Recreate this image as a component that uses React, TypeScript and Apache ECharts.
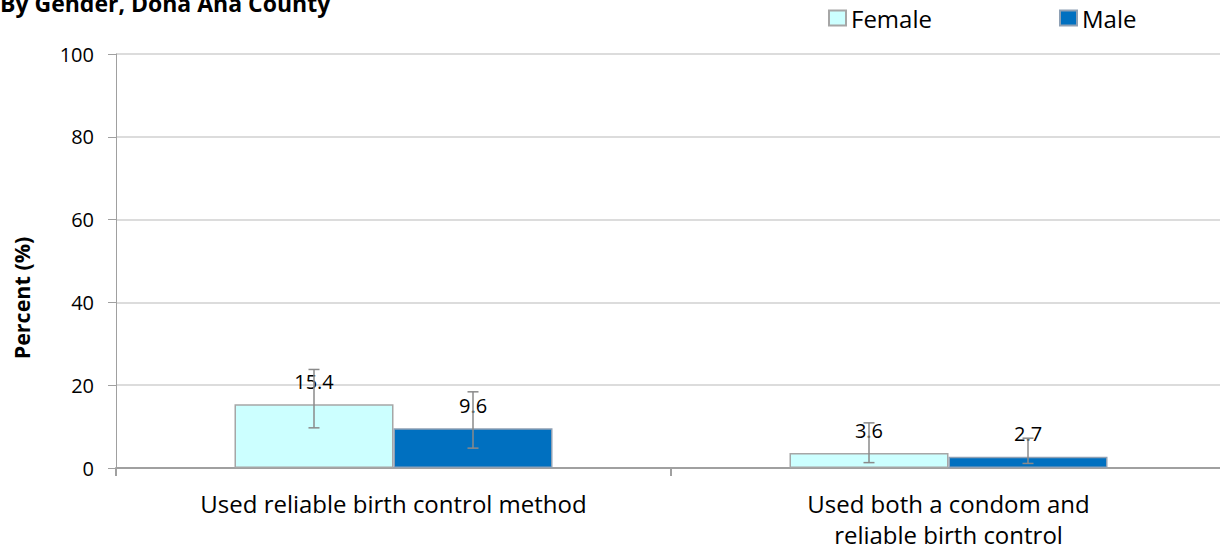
import React, { useEffect, useRef } from "react";
import * as echarts from "echarts";

const categories = [
  "Used reliable birth control method",
  "Used both a condom and\nreliable birth control",
];
const seriesNames = ["Female", "Male"];
const femaleValues = [15.4, 3.6];
const maleValues = [9.6, 2.7];
const femaleLow = [9.7, 1.3];
const femaleHigh = [23.8, 10.9];
const maleLow = [4.8, 1.1];
const maleHigh = [18.4, 7.2];
const yTicks = { min: 0, max: 100, interval: 20 };
const titleText = "By Gender, Dona Ana County";
const yAxisTitle = "Percent (%)";

const FONT = '"Open Sans", "Noto Sans", sans-serif';
const CAT_GAP = 0.427;

function errorSeries(low: number[], high: number[], sign: number) {
  return {
    type: "custom",
    silent: true,
    z: 5,
    data: low.map((l, i) => [i, l, high[i]]),
    encode: { x: 0, y: [1, 2] },
    renderItem: (params: any, api: any) => {
      const idx = api.value(0);
      const catW = api.size([1, 0])[0];
      const barW = (catW * (1 - CAT_GAP)) / 2;
      const cx = api.coord([idx, 0])[0] + (sign * barW) / 2;
      const yl = api.coord([idx, api.value(1)])[1];
      const yh = api.coord([idx, api.value(2)])[1];
      const cap = 5.5;
      const style = { stroke: "#8A8A8A", lineWidth: 1.5 };
      return {
        type: "group",
        children: [
          { type: "line", shape: { x1: cx, y1: yl, x2: cx, y2: yh }, style },
          { type: "line", shape: { x1: cx - cap, y1: yh, x2: cx + cap, y2: yh }, style },
          { type: "line", shape: { x1: cx - cap, y1: yl, x2: cx + cap, y2: yl }, style },
        ],
      };
    },
  };
}

export default function App() {
  const ref = useRef<HTMLDivElement>(null);
  useEffect(() => {
    if (!ref.current) return;
    const chart = echarts.init(ref.current, undefined, { renderer: "svg" });
    const labelStyle = {
      show: true,
      position: "top",
      distance: 13,
      color: "#000",
      fontSize: 20,
      fontFamily: FONT,
      formatter: (p: any) => p.value.toFixed(1),
    };
    const legendBase = {
      top: 6,
      padding: 0,
      itemWidth: 17,
      itemHeight: 15,
      icon: "rect",
      textStyle: { fontSize: 24, color: "#000", fontFamily: FONT },
    };
    chart.setOption({
      animation: false,
      backgroundColor: "#fff",
      textStyle: { fontFamily: FONT },
      graphic: [
        {
          type: "text",
          x: 0,
          y: 3,
          style: {
            text: titleText,
            font: `bold 23px ${FONT}`,
            fill: "#000",
            textAlign: "left",
            textVerticalAlign: "middle",
            verticalAlign: "middle",
          },
        },
        {
          type: "text",
          x: 21,
          y: 298,
          rotation: Math.PI / 2,
          style: {
            text: yAxisTitle,
            font: `bold 21.5px ${FONT}`,
            fill: "#000",
            textAlign: "center",
            verticalAlign: "middle",
            textVerticalAlign: "middle",
          },
        },
      ],
      legend: [
        { ...legendBase, data: [seriesNames[0]], left: 828 },
        { ...legendBase, data: [seriesNames[1]], left: 1059 },
      ],
      grid: {
        left: 116,
        right: 6,
        top: 54,
        bottom: 86,
        containLabel: false,
        outerBoundsMode: "none",
      },
      xAxis: {
        type: "category",
        data: categories,
        axisLine: { lineStyle: { color: "#A0A0A0", width: 2 } },
        axisTick: { show: true, length: 8, lineStyle: { color: "#A0A0A0", width: 2 } },
        axisLabel: {
          color: "#000",
          fontSize: 24,
          fontFamily: FONT,
          margin: 20,
          lineHeight: 31,
          interval: 0,
        },
        splitLine: { show: false },
      },
      yAxis: {
        type: "value",
        min: yTicks.min,
        max: yTicks.max,
        interval: yTicks.interval,
        axisLine: { show: true, lineStyle: { color: "#A0A0A0", width: 1 } },
        axisTick: { show: true, length: 8, lineStyle: { color: "#A0A0A0" } },
        axisLabel: { color: "#000", fontSize: 20, fontFamily: FONT, margin: 22 },
        splitLine: { show: true, lineStyle: { color: "#D0D0D0", width: 1.5 } },
      },
      series: [
        {
          name: seriesNames[0],
          type: "bar",
          data: femaleValues,
          barGap: "0%",
          barCategoryGap: `${CAT_GAP * 100}%`,
          itemStyle: { color: "#CCFFFF", borderColor: "#A6A6A6", borderWidth: 1.5 },
          label: labelStyle,
        },
        {
          name: seriesNames[1],
          type: "bar",
          data: maleValues,
          barGap: "0%",
          barCategoryGap: `${CAT_GAP * 100}%`,
          itemStyle: { color: "#0070C0", borderColor: "#8EA0B4", borderWidth: 1.5 },
          label: labelStyle,
        },
        errorSeries(femaleLow, femaleHigh, -1),
        errorSeries(maleLow, maleHigh, 1),
      ],
    });
    return () => chart.dispose();
  }, []);
  return (
    <div
      style={{
        position: "fixed",
        left: 0,
        top: 0,
        width: 1220,
        height: 554,
        overflow: "hidden",
        background: "#fff",
      }}
    >
      <div ref={ref} style={{ width: 1232, height: 554 }} />
    </div>
  );
}
